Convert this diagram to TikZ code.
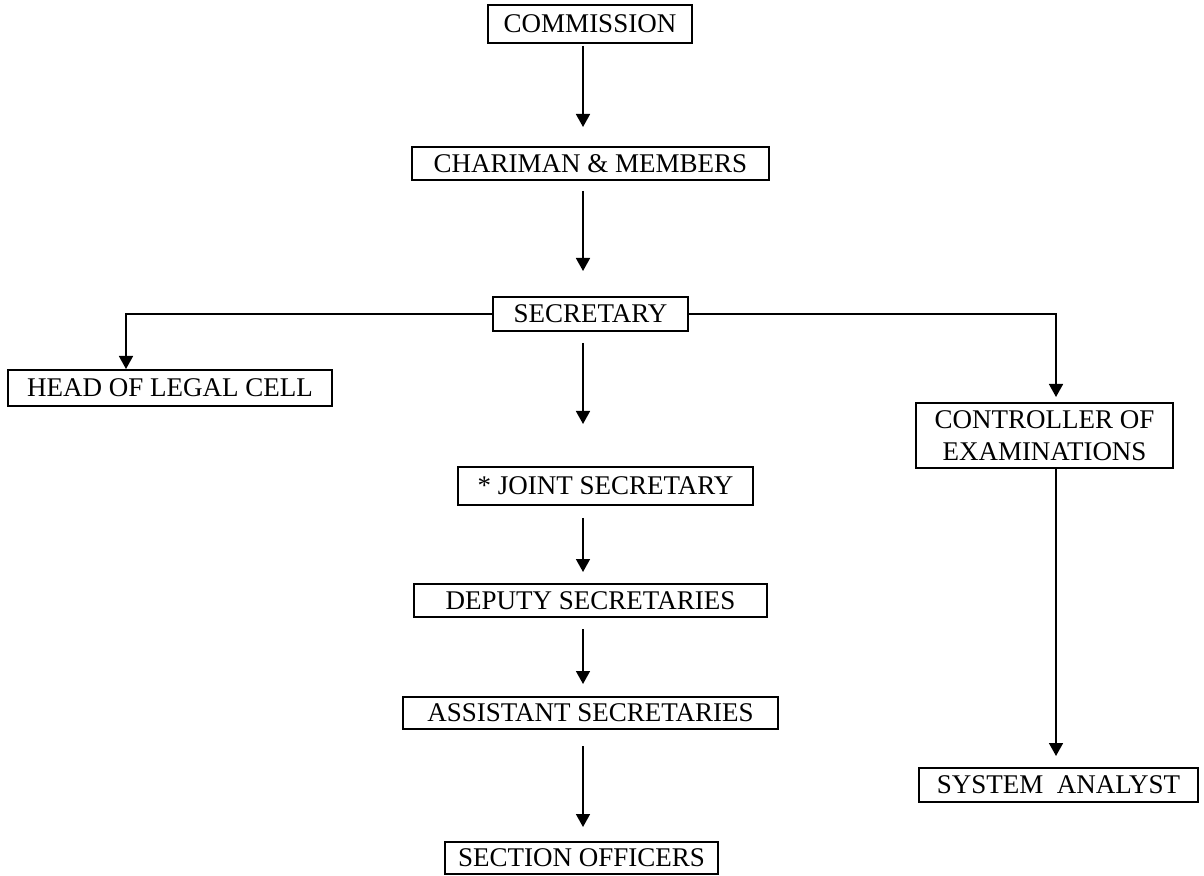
\documentclass[tikz,border=0pt]{standalone}
\usepackage{fontspec}
\setmainfont{Liberation Serif}
\usetikzlibrary{arrows.meta}
\begin{document}
\begin{tikzpicture}[x=0.5pt,y=-0.5pt,
  box/.style={draw, line width=1pt, inner sep=0pt, anchor=center,
    font=\fontsize{13.5}{15.8}\selectfont, align=center},
  arr/.style={line width=0.8pt, -{Triangle[length=6.5pt,width=7pt]}},
  link/.style={line width=0.8pt}]
\useasboundingbox (0,0) rectangle (1204,876);
% boxes
\node[box, minimum width=102pt, minimum height=19pt] (comm) at (590,24) {COMMISSION};
\node[box, minimum width=178.5pt, minimum height=16.5pt] (chair) at (590.5,163.5) {CHARIMAN \& MEMBERS};
\node[box, minimum width=97.5pt, minimum height=17pt] (sec) at (590.5,314) {SECRETARY};
\node[box, minimum width=162pt, minimum height=18pt] (head) at (170,388) {HEAD OF LEGAL CELL};
\node[box, minimum width=128.5pt, minimum height=32.5pt] (ctrl) at (1044.5,435.5) {CONTROLLER OF\\EXAMINATIONS};
\node[box, minimum width=147.5pt, minimum height=19pt] (joint) at (605.5,486) {* JOINT SECRETARY};
\node[box, minimum width=176.5pt, minimum height=16.5pt] (dep) at (590.5,600.5) {DEPUTY SECRETARIES};
\node[box, minimum width=187.5pt, minimum height=16pt] (asst) at (590.5,713) {ASSISTANT SECRETARIES};
\node[box, minimum width=136.5pt, minimum height=16pt] (sect) at (581.5,858) {SECTION OFFICERS};
\node[box, minimum width=139.5pt, minimum height=17pt] (sys) at (1058.5,785) {SYSTEM\ \ ANALYST};
% column coordinates
\coordinate (colx) at (583,0);
\coordinate (leftx) at (126,0);
\coordinate (rightx) at (1056,0);
% main column arrows
\draw[arr, shorten <=1pt, shorten >=9.5pt] (comm.south -| colx) -- (chair.north -| colx);
\draw[arr, shorten <=5pt, shorten >=12.5pt] (chair.south -| colx) -- (sec.north -| colx);
\draw[arr, shorten <=5.5pt, shorten >=21pt] (sec.south -| colx) -- (joint.north -| colx);
\draw[arr, shorten <=6pt, shorten >=5.5pt] (joint.south -| colx) -- (dep.north -| colx);
\draw[arr, shorten <=5.5pt, shorten >=6pt] (dep.south -| colx) -- (asst.north -| colx);
\draw[arr, shorten <=8pt, shorten >=7pt] (asst.south -| colx) -- (sect.north -| colx);
% branches
\draw[arr] (sec.west) -- (sec.west -| leftx) -- (head.north -| leftx);
\draw[arr, shorten >=2.5pt] (sec.east) -- (sec.east -| rightx) -- (ctrl.north -| rightx);
\draw[arr, shorten >=5.5pt] (ctrl.south -| rightx) -- (sys.north -| rightx);
\end{tikzpicture}
\end{document}
